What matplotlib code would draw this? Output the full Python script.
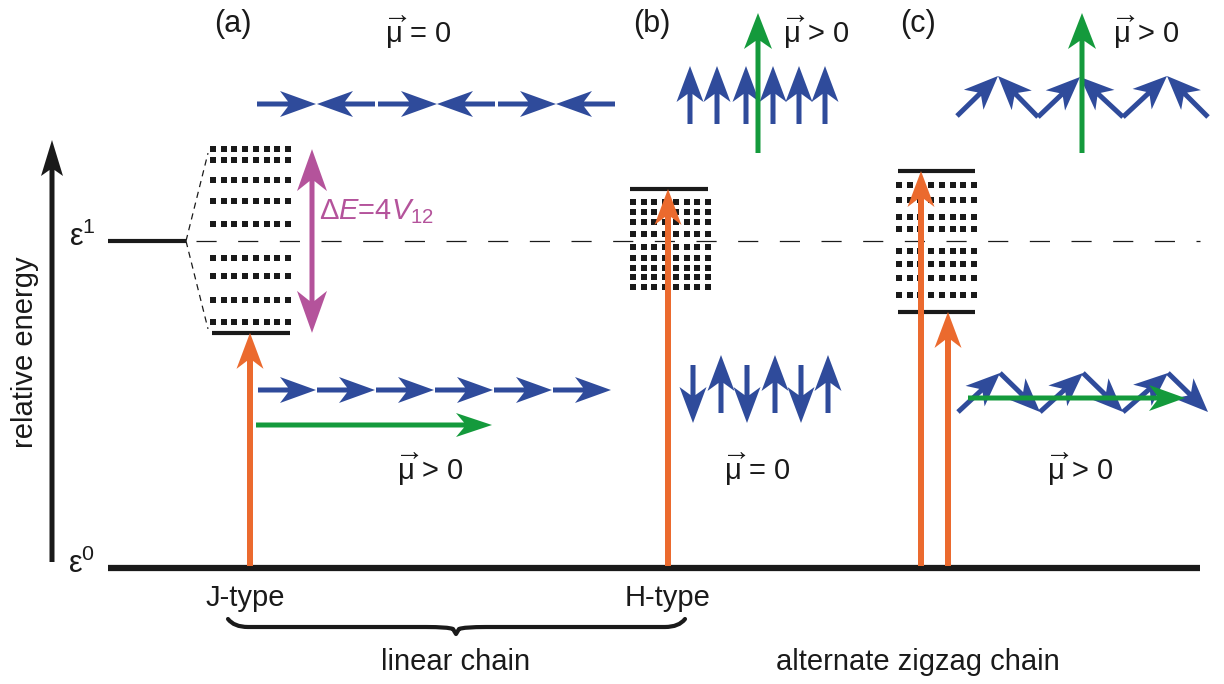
import matplotlib
matplotlib.use("Agg")
import matplotlib.pyplot as plt
import numpy as np
from matplotlib.patches import Polygon, PathPatch
from matplotlib.path import Path

# ─── Config ───────────────────────────────────────────────────────────────────

W, H = 1224, 684
E0_PX = 568          # baseline (ε0) in canvas units
E_UNIT = 327         # canvas units per unit of relative energy

BLUE    = "#2f4b9b"
GREEN   = "#149a3c"
ORANGE  = "#eb6a2e"
MAGENTA = "#b4539b"
BLACK   = "#1a1a1a"

# relative energies (ε0 = 0, ε1 = 1)
EPS1 = 1.0
J_ROWS   = [1.281, 1.248, 1.187, 1.122, 1.052, 0.948, 0.893, 0.820, 0.753]
J_BOTTOM = 0.719
H_ROWS   = [1.119, 1.089, 1.058, 1.021, 0.982, 0.948, 0.917, 0.890, 0.859]
H_TOP    = 1.159
C_ROWS   = [1.171, 1.125, 1.073, 1.037, 0.969, 0.930, 0.887, 0.835]
C_TOP    = 1.214
C_BOTTOM = 0.783

# band columns (x of the first dot) and dots per row
J_X0, H_X0, C_X0 = 213, 633, 899
DOT_STEP, N_DOTS = 10.7, 8

# transition arrows: x position and the level they end on
TRANS_X      = [250, 668, 921, 948]
TRANS_TARGET = [J_BOTTOM, H_TOP, C_TOP, C_BOTTOM]

# dipole chains: (tail x, tail y, tip x, tip y)
A_TOP = [(257, 104, 316, 104), (375, 104, 317, 104), (378, 104, 437, 104),
         (495, 104, 437, 104), (498, 104, 556, 104), (615, 104, 556, 104)]
A_BOT = [(258, 390, 316, 390), (317, 390, 375, 390), (376, 390, 434, 390),
         (435, 390, 493, 390), (494, 390, 552, 390), (553, 390, 611, 390)]
B_TOP_X = [690, 717, 746, 773, 799, 825]
B_BOT_X = [693, 721, 747, 775, 801, 828]
C_TOP_PTS = [(957, 116), (998, 76), (1038, 117), (1080, 77),
             (1123, 117), (1167, 76), (1208, 117)]
C_BOT_PTS = [(958, 412), (1000, 373), (1040, 412), (1083, 373),
             (1123, 412), (1168, 373), (1208, 412)]


def ey(e):
    return E0_PX - E_UNIT * e


def arrow(ax, x0, y0, x1, y1, color, w=5, hw=26, hl=34, notch=8, z=3):
    # shaft + swept-back head as one polygon
    p0, p1 = np.array([x0, y0], float), np.array([x1, y1], float)
    u = (p1 - p0) / np.hypot(*(p1 - p0))
    n = np.array([-u[1], u[0]])
    base = p1 - u * hl
    neck = p1 - u * (hl - notch)
    pts = [p0 + n * w / 2, neck + n * w / 2, base + n * hw / 2, p1,
           base - n * hw / 2, neck - n * w / 2, p0 - n * w / 2]
    ax.add_patch(Polygon(pts, closed=True, facecolor=color, edgecolor="none",
                         zorder=z))


def band(ax, x0, rows):
    xs = x0 + DOT_STEP * np.arange(N_DOTS)
    for e in rows:
        ax.scatter(xs, np.full(N_DOTS, ey(e)), marker="s", s=16,
                   color=BLACK, linewidths=0, zorder=2)


def level(ax, x0, x1, e, lw=3.0):
    ax.plot([x0, x1], [ey(e), ey(e)], color=BLACK, lw=lw,
            solid_capstyle="butt", zorder=2)


# ─── Style ────────────────────────────────────────────────────────────────────

plt.rcParams.update({
    "font.family": ["Liberation Sans", "DejaVu Sans"],
    "mathtext.fontset": "custom",
    "mathtext.rm": "Liberation Sans",
    "mathtext.it": "Liberation Sans:italic",
    "lines.scale_dashes": False,
})

fig = plt.figure(figsize=(W / 100, H / 100), dpi=100)
ax = fig.add_axes([0, 0, 1, 1])
ax.set_xlim(0, W)
ax.set_ylim(H, 0)
ax.axis("off")

FS = 21
TXT = "#1a1a1a"

# ─── Energy axis and levels ───────────────────────────────────────────────────

arrow(ax, 52, 562, 52, 140, BLACK, w=5, hw=22, hl=36, notch=6)
ax.text(25, 352, "relative energy", rotation=90, ha="center", va="center",
        fontsize=FS, color=TXT)
ax.text(82, ey(0) - 4, "ε$^0$", ha="center", va="center", fontsize=FS + 1, color=TXT)
ax.text(82, ey(EPS1) - 4, "ε$^1$", ha="center", va="center", fontsize=FS + 1, color=TXT)

ax.plot([108, 1200], [ey(0), ey(0)], color=BLACK, lw=4.5,
        solid_capstyle="butt", zorder=2)
level(ax, 108, 186, EPS1)
ax.plot([196, 1200], [ey(EPS1), ey(EPS1)], color=BLACK, lw=0.9,
        dashes=(14.5, 15.5), zorder=1)

# J band fan-out
for e in (J_ROWS[0], J_BOTTOM):
    ax.plot([186, 208], [ey(EPS1), ey(e) + (4 if e > 1 else -4)],
            color=BLACK, lw=0.9, dashes=(4.5, 3.5), zorder=1)

band(ax, J_X0, J_ROWS)
level(ax, 212, 290, J_BOTTOM)
band(ax, H_X0, H_ROWS)
level(ax, 630, 708, H_TOP)
band(ax, C_X0, C_ROWS)
level(ax, 898, 975, C_TOP)
level(ax, 898, 975, C_BOTTOM)

# bandwidth arrow
ymid = (ey(J_ROWS[0]) + ey(J_BOTTOM)) / 2
arrow(ax, 312, ymid, 312, ey(J_ROWS[0]), MAGENTA, w=5, hw=30, hl=42, notch=10)
arrow(ax, 312, ymid, 312, ey(J_BOTTOM), MAGENTA, w=5, hw=30, hl=42, notch=10)
ax.text(319, 212, r"Δ$E$=4$V_{\mathit{12}}$", ha="left",
        va="center", fontsize=FS, color=MAGENTA)

# ─── Transitions ──────────────────────────────────────────────────────────────

for x, e in zip(TRANS_X, TRANS_TARGET):
    arrow(ax, x, ey(0) - 2, x, ey(e), ORANGE, w=6, hw=27, hl=36, notch=8, z=4)

# ─── Dipole chains ────────────────────────────────────────────────────────────

for x0, y0, x1, y1 in A_TOP + A_BOT:
    arrow(ax, x0, y0, x1, y1, BLUE, w=5, hw=26, hl=36)
arrow(ax, 256, 425, 492, 425, GREEN, w=5, hw=24, hl=36)

for x in B_TOP_X:
    arrow(ax, x, 124, x, 66, BLUE, w=5, hw=27, hl=36)
for i, x in enumerate(B_BOT_X):
    if i % 2 == 0:
        arrow(ax, x, 365, x, 423, BLUE, w=5, hw=27, hl=36)
    else:
        arrow(ax, x, 413, x, 355, BLUE, w=5, hw=27, hl=36)
arrow(ax, 758, 153, 758, 13, GREEN, w=5, hw=28, hl=36, z=5)

for i in range(len(C_TOP_PTS) - 1):
    (xa, ya), (xb, yb) = C_TOP_PTS[i], C_TOP_PTS[i + 1]
    if i % 2 == 0:
        arrow(ax, xa, ya, xb, yb, BLUE, w=5, hw=28, hl=34)
    else:
        arrow(ax, xb, yb, xa, ya, BLUE, w=5, hw=28, hl=34)
arrow(ax, 1082, 153, 1082, 13, GREEN, w=5, hw=28, hl=36, z=5)

for i in range(len(C_BOT_PTS) - 1):
    (xa, ya), (xb, yb) = C_BOT_PTS[i], C_BOT_PTS[i + 1]
    arrow(ax, xa, ya, xb, yb, BLUE, w=5, hw=28, hl=34)
arrow(ax, 968, 398, 1185, 398, GREEN, w=5, hw=26, hl=36, z=5)

# ─── Labels ───────────────────────────────────────────────────────────────────

MU = r"$\overrightarrow{\mathrm{\mu}}$"
for x, y, s in [(233, 24, "(a)"), (652, 24, "(b)"), (918, 24, "(c)")]:
    ax.text(x, y, s, ha="center", va="center", fontsize=FS + 1, color=TXT)

for x, y, rel in [(418, 33, "="), (816, 33, ">"), (1146, 33, ">"),
                  (430, 470, ">"), (757, 470, "="), (1080, 470, ">")]:
    ax.text(x, y, f"{MU} {rel} 0", ha="center", va="center",
            fontsize=FS, color=TXT)

ax.text(245, 598, "J-type", ha="center", va="center", fontsize=FS, color=TXT)
ax.text(668, 598, "H-type", ha="center", va="center", fontsize=FS, color=TXT)
ax.text(456, 662, "linear chain", ha="center", va="center", fontsize=FS, color=TXT)
ax.text(918, 662, "alternate zigzag chain", ha="center", va="center",
        fontsize=FS, color=TXT)

# curly brace under the linear-chain pair
bx0, bx1, bxm, by, bd = 228, 685, 456, 619, 15
verts = [(bx0, by), (bx0 + 6, by + 8), (bx0 + 20, by + 8), (bxm - 30, by + 8),
         (bxm - 8, by + 8), (bxm - 3, by + 10), (bxm, by + bd),
         (bxm + 3, by + 10), (bxm + 8, by + 8), (bxm + 30, by + 8),
         (bx1 - 20, by + 8), (bx1 - 6, by + 8), (bx1, by)]
codes = [Path.MOVETO, Path.CURVE3, Path.CURVE3, Path.LINETO,
         Path.CURVE3, Path.CURVE3, Path.LINETO,
         Path.LINETO, Path.CURVE3, Path.CURVE3,
         Path.LINETO, Path.CURVE3, Path.CURVE3]
ax.add_patch(PathPatch(Path(verts, codes), fill=False, lw=3,
                       edgecolor=BLACK, capstyle="round", joinstyle="round"))

fig.savefig("out.png", dpi=100, facecolor="white")
